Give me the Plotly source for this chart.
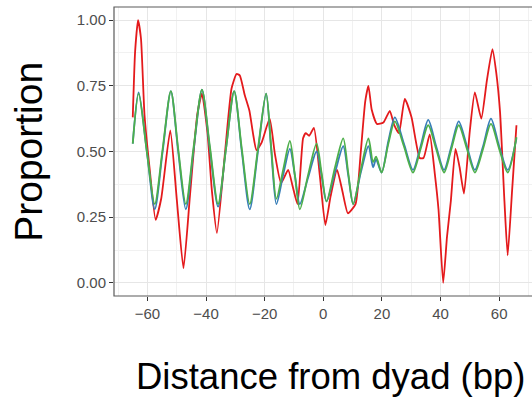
import plotly.graph_objects as go

# Positions (bp from dyad) and proportions for the strongly varying series
red_pos = [-65, -64.2, -63.2, -62.2, -61, -59.2, -57.2, -55.3, -52.2, -50, -47.7, -45.5,
           -43, -41.4, -39.5, -38, -36.3, -33.5, -31.3, -29.6, -28.5, -26.8, -25.2, -24,
           -22.8, -21, -18.3, -16.5, -14.4, -12, -10.5, -8.8, -6.9, -6, -4.8, -3.2, -1.2,
           0.7, 2.5, 4.7, 6.5, 8.4, 11, 12.8, 14.3, 15.4, 16.5, 18.3, 20.5, 22.7, 24.2,
           25.8, 27.8, 30.1, 32.9, 34.2, 36.3, 38, 39.3, 40.9, 42.2, 43.5, 45.1, 46.5,
           48, 50, 51.7, 53.9, 55.8, 57.7, 59, 60.3, 61.8, 62.9, 64.4, 65.9]
red_val = [0.63, 0.88, 1.00, 0.93, 0.64, 0.43, 0.24, 0.32, 0.58, 0.32, 0.055, 0.33,
           0.64, 0.72, 0.57, 0.35, 0.19, 0.50, 0.74, 0.795, 0.79, 0.715, 0.655, 0.57,
           0.505, 0.535, 0.625, 0.49, 0.38, 0.43, 0.37, 0.30, 0.55, 0.57, 0.56, 0.59, 0.41,
           0.22, 0.33, 0.43, 0.35, 0.265, 0.30, 0.50, 0.69, 0.75, 0.66, 0.605, 0.61, 0.655, 0.60,
           0.57, 0.70, 0.63, 0.475, 0.475, 0.565, 0.42, 0.28, 0.0, 0.175, 0.31, 0.51, 0.44,
           0.34, 0.58, 0.725, 0.625, 0.77, 0.89, 0.80, 0.65, 0.31, 0.105, 0.35, 0.60]

# Positions shared by the two periodic series
phase_pos = [-65, -63, -60.2, -57.5, -54.8, -52, -49.5, -46.9, -44.2, -41.4, -38.7, -35.9,
             -33.2, -30.4, -27.8, -25.1, -22.3, -19.5, -17.8, -16, -13.7, -11.4, -9.7, -8,
             -5.2, -2.3, -0.6, 1.1, 4, 6.8, 8.5, 10.2, 12.8, 15.4, 17, 18, 19.9, 22.2, 24.4,
             27.5, 30.6, 33.2, 35.8, 38.5, 41.2, 43.7, 46.2, 49, 51.7, 54.5, 57.2, 60, 62.9, 65.9]
blue_val = [0.53, 0.725, 0.50, 0.28, 0.50, 0.73, 0.50, 0.28, 0.51, 0.735, 0.51, 0.29,
            0.51, 0.73, 0.50, 0.28, 0.50, 0.72, 0.51, 0.30, 0.41, 0.51, 0.41, 0.30,
            0.40, 0.50, 0.41, 0.31, 0.42, 0.52, 0.41, 0.30, 0.42, 0.52, 0.44, 0.47, 0.42, 0.54, 0.63,
            0.53, 0.43, 0.52, 0.62, 0.52, 0.43, 0.52, 0.615, 0.52, 0.43, 0.52, 0.625, 0.52, 0.43, 0.55]
green_val = [0.53, 0.72, 0.50, 0.30, 0.51, 0.73, 0.51, 0.30, 0.52, 0.735, 0.52, 0.30,
             0.51, 0.73, 0.51, 0.30, 0.51, 0.72, 0.52, 0.32, 0.43, 0.54, 0.41, 0.28,
             0.41, 0.53, 0.42, 0.31, 0.44, 0.55, 0.42, 0.30, 0.43, 0.55, 0.46, 0.48, 0.42, 0.53, 0.615,
             0.52, 0.42, 0.51, 0.60, 0.51, 0.42, 0.51, 0.60, 0.51, 0.42, 0.51, 0.605, 0.51, 0.42, 0.555]

x_ticks = [-60, -40, -20, 0, 20, 40, 60]
y_ticks = [0.00, 0.25, 0.50, 0.75, 1.00]
y_tick_text = ["0.00", "0.25", "0.50", "0.75", "1.00"]

RED, BLUE, GREEN = "#E41A1C", "#377EB8", "#4DAF4A"
GRID, GRID_MINOR, INK = "#E6E6E6", "#F1F1F1", "#333333"
FONT = "Liberation Sans, Arial, sans-serif"

fig = go.Figure()
fig.add_trace(go.Scatter(x=red_pos, y=red_val, mode="lines",
                         line=dict(color=RED, width=1.8, shape="spline", smoothing=0.5)))
fig.add_trace(go.Scatter(x=phase_pos, y=blue_val, mode="lines",
                         line=dict(color=BLUE, width=1.8, shape="spline", smoothing=0.8)))
fig.add_trace(go.Scatter(x=phase_pos, y=green_val, mode="lines",
                         line=dict(color=GREEN, width=1.8, shape="spline", smoothing=0.8)))

axis_common = dict(
    showline=False, zeroline=False, showgrid=True, gridcolor=GRID, gridwidth=1.2,
    ticks="outside", ticklen=4, tickwidth=1.2, tickcolor=INK,
    tickfont=dict(family=FONT, size=15, color="#4D4D4D"),
)
fig.update_xaxes(range=[-71.4, 71.2], tickvals=x_ticks,
                 minor=dict(dtick=10, tick0=0, showgrid=True, gridcolor=GRID_MINOR, gridwidth=0.8),
                 **axis_common)
fig.update_yaxes(range=[-0.05, 1.05], tickvals=y_ticks, ticktext=y_tick_text,
                 minor=dict(dtick=0.125, tick0=0, showgrid=True, gridcolor=GRID_MINOR, gridwidth=0.8),
                 **axis_common)

# Panel border (open on the right where the panel runs off the canvas)
fig.add_shape(type="rect", xref="paper", yref="paper", x0=0, x1=1.2, y0=0, y1=1,
              line=dict(color="#5A5A5A", width=1.2), layer="above")

fig.add_annotation(text="Distance from dyad (bp)", xref="paper", yref="paper",
                   x=0.518, y=-0.28, showarrow=False, xanchor="center", yanchor="middle",
                   font=dict(family=FONT, size=36.5, color="#000000"))
fig.add_annotation(text="Proportion", xref="paper", yref="paper", textangle=-90,
                   x=-0.205, y=0.5, showarrow=False, xanchor="center", yanchor="middle",
                   font=dict(family=FONT, size=39, color="#000000"))

fig.update_layout(width=532, height=398, showlegend=False,
                  margin=dict(l=114, r=0, t=7, b=102),
                  paper_bgcolor="white", plot_bgcolor="white")

fig.write_html("out.html")
